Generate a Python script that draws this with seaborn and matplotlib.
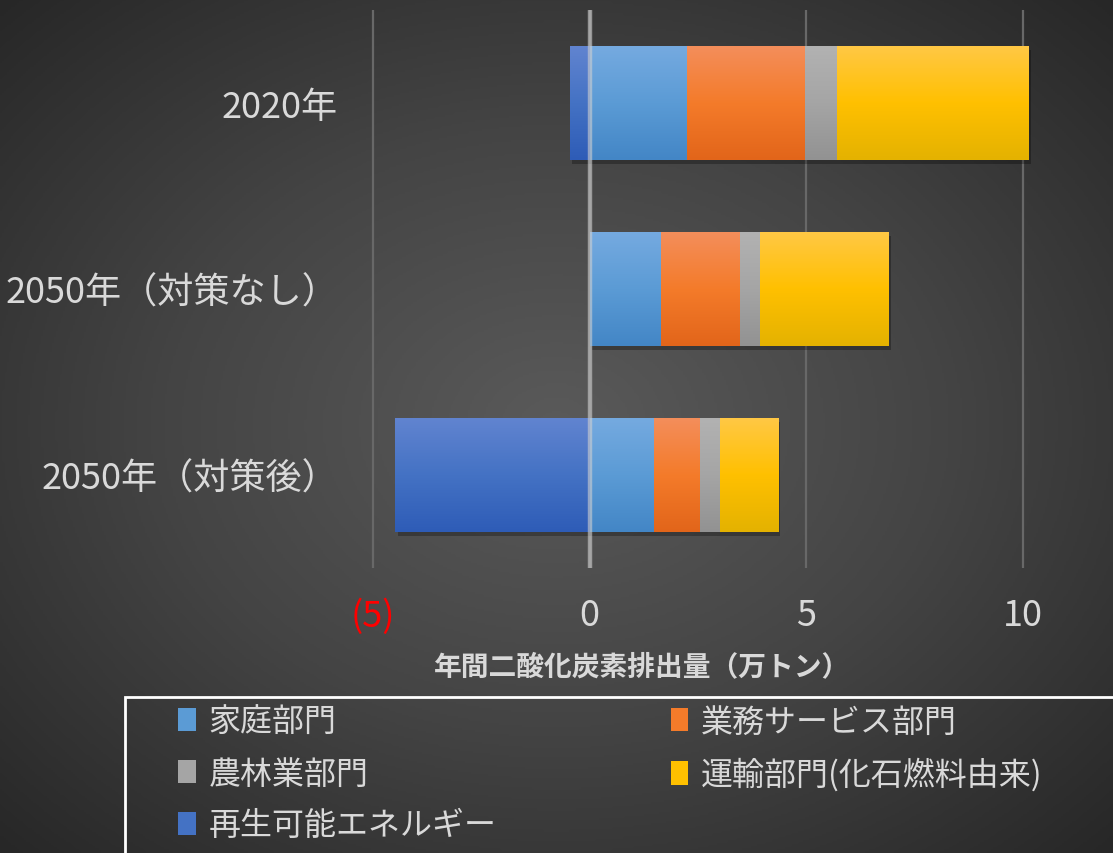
import numpy as np
import pandas as pd
import matplotlib
matplotlib.use("Agg")
import matplotlib.pyplot as plt
import matplotlib.patheffects as pe
from matplotlib.colors import LinearSegmentedColormap
from matplotlib.patches import Rectangle, Patch
import seaborn as sns

# --- data (万トン) ---
scenarios = ["2020年", "2050年（対策なし）", "2050年（対策後）"]
household = [2.24, 1.64, 1.48]
business = [2.73, 1.82, 1.06]
agriculture = [0.74, 0.46, 0.46]
transport = [4.41, 2.96, 1.34]
renewable = [-0.46, 0.0, -4.48]

series_names = ["家庭部門", "業務サービス部門", "農林業部門",
                "運輸部門(化石燃料由来)", "再生可能エネルギー"]
x_ticks = [-5, 0, 5, 10]
x_tick_labels = ["(5)", "0", "5", "10"]
x_label = "年間二酸化炭素排出量（万トン）"

# gradient colours per series: top, middle, bottom
shades = {
    "家庭部門": ("#75aae0", "#5b9bd5", "#4386c6"),
    "業務サービス部門": ("#f38e5b", "#f47b2a", "#e2651a"),
    "農林業部門": ("#b2b2b2", "#a5a5a5", "#929292"),
    "運輸部門(化石燃料由来)": ("#ffc845", "#ffc000", "#e4b200"),
    "再生可能エネルギー": ("#6184d0", "#4472c4", "#2e5cb7"),
}

sns.set_theme(style="white")
plt.rcParams["font.family"] = ["Noto Sans CJK JP", "DejaVu Sans"]
text_color = "#d9d9d9"

fig = plt.figure(figsize=(11.13, 8.54), dpi=100)

# radial dark background
bg = fig.add_axes([0, 0, 1, 1], zorder=-10)
yy, xx = np.mgrid[0:1:400j, 0:1:520j]
r = np.sqrt(((xx - 0.5) / 0.75) ** 2 + ((yy - 0.5) / 0.75) ** 2)
r = np.clip(r / r.max(), 0, 1)
bg_cmap = LinearSegmentedColormap.from_list("bg", ["#5a5a5a", "#444444", "#272727"])
bg.imshow(r, cmap=bg_cmap, aspect="auto", extent=(0, 1, 0, 1), vmin=0, vmax=1)
bg.set_axis_off()

ax = fig.add_axes([0.3273, 0.3337, 0.6658, 0.6534])
ax.set_facecolor("none")

# stacked horizontal bars: each series starts where the previous one ends
pos_series = [("家庭部門", household), ("業務サービス部門", business),
              ("農林業部門", agriculture), ("運輸部門(化石燃料由来)", transport)]
lefts = np.zeros(len(scenarios))
bar_groups = {}
for name, vals in pos_series:
    df = pd.DataFrame({"scenario": scenarios, "value": vals})
    n0 = len(ax.patches)
    sns.barplot(data=df, x="value", y="scenario", orient="h", ax=ax,
                color=shades[name][1], width=0.61, left=lefts.copy(),
                linewidth=0, saturation=1)
    bar_groups[name] = ax.patches[n0:]
    lefts = lefts + np.array(vals)

df = pd.DataFrame({"scenario": scenarios, "value": renewable})
n0 = len(ax.patches)
sns.barplot(data=df, x="value", y="scenario", orient="h", ax=ax,
            color=shades["再生可能エネルギー"][1], width=0.61,
            linewidth=0, saturation=1)
bar_groups["再生可能エネルギー"] = ax.patches[n0:]

# vertical gradient fill and soft drop shadow on each segment
grad = np.linspace(0, 1, 256).reshape(-1, 1)
for name, patches in bar_groups.items():
    cmap = LinearSegmentedColormap.from_list(name, list(shades[name]))
    for p in patches:
        bb = p.get_bbox()
        x0, x1 = sorted([bb.x0, bb.x1])
        y0, y1 = sorted([bb.y0, bb.y1])
        if x1 - x0 <= 1e-9:
            continue
        p.set_path_effects([pe.SimplePatchShadow(offset=(2, -3), shadow_rgbFace="black",
                                                 alpha=0.28), pe.Normal()])
        ax.imshow(grad, cmap=cmap, aspect="auto", extent=(x0, x1, y1, y0),
                  zorder=2, interpolation="bilinear")

ax.set_xlim(-5.2, 11.9)
ax.set_ylim(2.5, -0.5)

ax.grid(axis="x", color="#686868", linewidth=1.6)
ax.grid(axis="y", visible=False)
ax.set_axisbelow(True)
ax.axvline(0, color="#d0d0d0", alpha=0.6, linewidth=3.2, zorder=6)

for s in ax.spines.values():
    s.set_visible(False)

ax.set_xticks(x_ticks)
ax.set_xticklabels(x_tick_labels)
ax.tick_params(axis="both", length=0, labelsize=26, colors=text_color)
ax.tick_params(axis="x", pad=21)
ax.tick_params(axis="y", pad=19)
for lbl, v in zip(ax.get_xticklabels(), x_ticks):
    lbl.set_color("#ff0000" if v < 0 else text_color)
for lbl in ax.get_yticklabels():
    lbl.set_verticalalignment("center_baseline")

ax.set_ylabel("")
ax.set_xlabel(x_label, fontsize=20, fontweight="bold", color=text_color)
ax.xaxis.set_label_coords(0.375, -0.150)

# legend in an open white frame
fig.patches.append(Rectangle((125 / 1113, -0.02), 1.1, (854 - 698) / 854 + 0.02,
                             transform=fig.transFigure, fill=False,
                             edgecolor="white", linewidth=2))
order = ["家庭部門", "農林業部門", "再生可能エネルギー",
         "業務サービス部門", "運輸部門(化石燃料由来)"]
handles = [Patch(facecolor=shades[n][1], edgecolor="none") for n in order]
leg = fig.legend(handles, order, loc="upper left",
                 bbox_to_anchor=(149 / 1113, 1 - 678 / 854), ncol=2,
                 frameon=False, fontsize=23, handlelength=0.56, handleheight=0.75,
                 handletextpad=0.4, labelspacing=0.62, columnspacing=5.45)
for t in leg.get_texts():
    t.set_color(text_color)

fig.savefig("out.png", dpi=100)
